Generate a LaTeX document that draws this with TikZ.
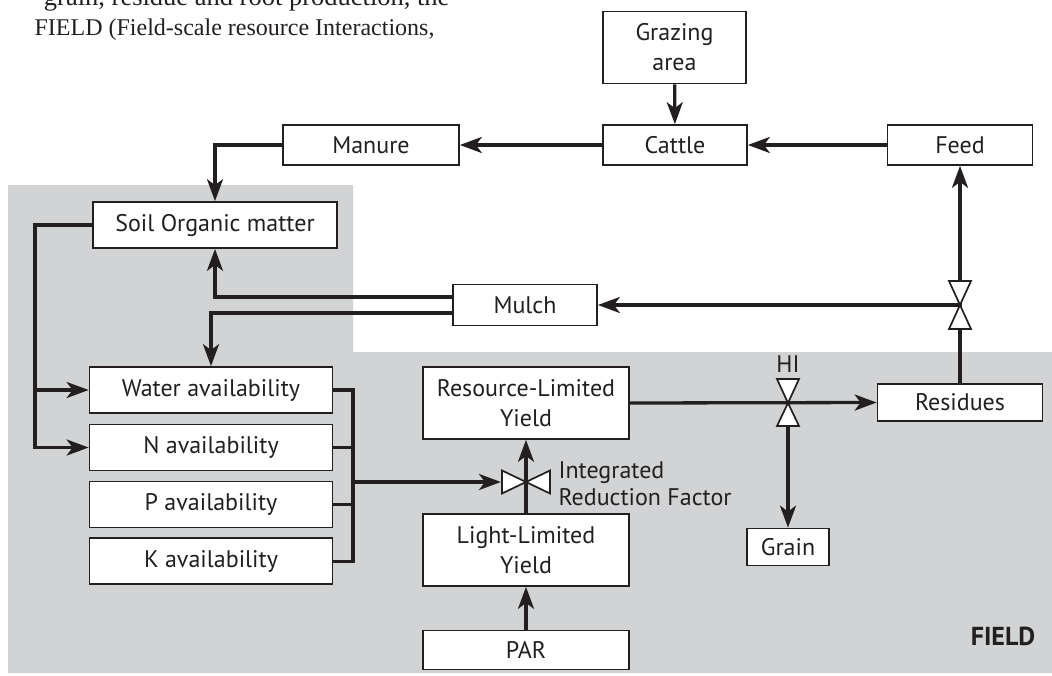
\documentclass[tikz,border=0pt]{standalone}
\usepackage{fontspec}
\setmainfont{PT Sans}
\newfontfamily\paperfont{Liberation Serif}
\usetikzlibrary{arrows.meta,calc}
\definecolor{ink}{HTML}{231F20}
\definecolor{fieldgray}{HTML}{D1D3D4}
\tikzset{
  box/.style={draw=ink,fill=white,line width=1.7pt,font=\fontsize{24}{30}\selectfont,text=ink,align=center,inner sep=0pt},
  note/.style={font=\fontsize{24}{27}\selectfont,text=ink,align=left},
  papertext/.style={font=\paperfont\fontsize{24}{28}\selectfont,text=ink},
  arr/.style={-{Stealth[length=22pt,width=16pt,inset=6pt]},draw=ink,line width=3.3pt},
  wire/.style={draw=ink,line width=3.3pt},
  valve/.style={draw=ink,fill=white,line width=1.7pt}
}

\begin{document}
\begin{tikzpicture}[x=1pt,y=-1pt]
\path[use as bounding box] (0,0) rectangle (1052,675);
\clip (0,0) rectangle (1052,675);
\fill[fieldgray] (8,185) -- (353,185) -- (353,352) -- (1052,352) -- (1052,673) -- (8,673) -- cycle;
\node[papertext,font=\paperfont\fontsize{26.5}{28}\selectfont,anchor=base east] (hdra) at (453,5) {grain, residue and root production, the};
\node[papertext,anchor=base east] (hdrb) at (438,35) {FIELD (Field-scale resource Interactions,};
% livestock
\node[box,minimum width=143pt,minimum height=72pt] (graz) at (674.5,47.5) {Grazing\\area};
\node[box,minimum width=144pt,minimum height=40pt] (cattle) at (675,145) {Cattle};
\node[box,minimum width=145pt,minimum height=40pt] (feed) at (960,145) {Feed};
\node[box,minimum width=176pt,minimum height=40pt] (manure) at (371,145) {Manure};
% soil
\node[box,minimum width=244pt,minimum height=46pt] (som) at (215,225) {Soil Organic matter};
\node[box,minimum width=144pt,minimum height=41pt] (mulch) at (525,305) {Mulch};
\foreach \n/\y/\txt in {water/390/Water availability,nav/447.5/N availability,pav/504.5/P availability,kav/561.3/K availability}
  \node[box,minimum width=243pt,minimum height=46pt] (\n) at (211,\y) {\txt};
% crop
\node[box,minimum width=206pt,minimum height=72pt] (rly) at (526,403) {Resource-Limited\\Yield};
\node[box,minimum width=206pt,minimum height=72pt] (lly) at (526,550) {Light-Limited\\Yield};
\node[box,minimum width=206pt,minimum height=39pt] (par) at (526,650) {PAR};
\node[box,minimum width=165pt,minimum height=37pt] (resid) at (960,402.5) {Residues};
\node[box,minimum width=82pt,minimum height=37pt] (grain) at (788,547) {Grain};
\node[note,anchor=west] (irftxt) at (555,484) {Integrated\\Reduction Factor};
\node[note] (hitxt) at (788,364) {HI};
\node[font=\bfseries\fontsize{26}{30}\selectfont,text=ink] (fieldtxt) at (1003,636) {FIELD};
\coordinate (irf) at (526,482); \coordinate (irfin) at (501,482);
\coordinate (hi) at (788,403); \coordinate (rv) at (960,305);
\coordinate (lb) at (35,0); \coordinate (rb) at (353,0);
% flows
\draw[arr] (graz) -- (cattle);
\draw[arr] (feed) -- (cattle);
\draw[arr] (cattle) -- (manure);
\draw[arr] (manure.west) -| (som.north);
\draw[arr] ([yshift=8pt]mulch.west) -| (som.south);
\draw[arr] ([yshift=-8pt]mulch.west) -| (water.north);
\draw[arr] (som.west) -- (som.west -| lb) |- (nav.west);
\draw[arr] (water.west -| lb) -- (water.west);
\draw[wire] (water.east) -- (water.east -| rb) -- (kav.east -| rb) -- (kav.east);
\foreach \n in {nav,pav} \draw[wire] (\n.east) -- (\n.east -| rb);
\draw[arr] (irfin -| rb) -- (irfin);
\draw[arr] (par) -- (lly);
\draw[arr] (lly.north) -- (rly.south);
\draw[arr] (rly.east) -- (resid.west);
\draw[arr] (hi) -- (grain.north);
\draw[arr] (resid.north) -- (feed.south);
\draw[arr] (rv) -- (rv -| mulch.east);
% valves
\draw[valve] (irf) -- ++(-24,-11.5) -- ++(0,23) -- cycle;
\draw[valve] (irf) -- ++(24,-11.5) -- ++(0,23) -- cycle;
\draw[valve] (hi) -- ++(-11,-24) -- ++(22,0) -- cycle;
\draw[valve] (hi) -- ++(-11,23) -- ++(22,0) -- cycle;
\draw[valve] (rv) -- ++(-11,-24) -- ++(22,0) -- cycle;
\draw[valve] (rv) -- ++(-11,24) -- ++(22,0) -- cycle;
\end{tikzpicture}
\end{document}
